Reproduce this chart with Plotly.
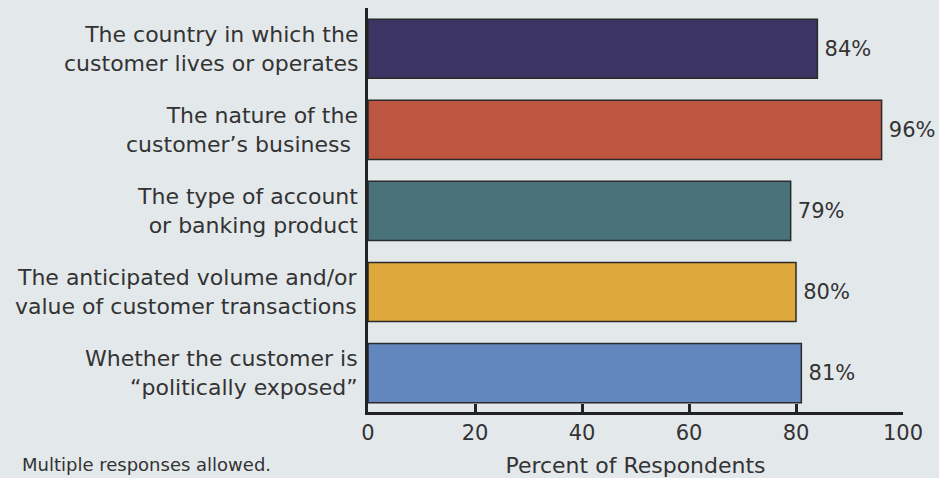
import plotly.graph_objects as go

# Data (first category shown on top)
categories = [
    "The country in which the<br>customer lives or operates",
    "The nature of the<br>customer\u2019s business\u00a0",
    "The type of account<br>or banking product",
    "The anticipated volume and/or<br>value of customer transactions",
    "Whether the customer is<br>\u201cpolitically exposed\u201d",
]
values = [84, 96, 79, 80, 81]
value_labels = ["84%", "96%", "79%", "80%", "81%"]
colors = ["#3c3462", "#bd5641", "#4a727b", "#dfa83c", "#6286bd"]
x_ticks = [0, 20, 40, 60, 80, 100]
x_title = "Percent of Respondents"
note = "Multiple responses allowed."

n = len(categories)
ypos = [n - 1 - i for i in range(n)]  # first category on top

BG = "#e3e8eb"
TXT = "#333333"
FONT = "DejaVu Sans"

fig = go.Figure()
fig.add_trace(go.Bar(
    x=values, y=ypos, orientation="h",
    width=0.73,
    marker=dict(color=colors, line=dict(color="#2a2a2a", width=1.5)),
    text=["\u2009" + v for v in value_labels], textposition="outside",
    textfont=dict(family=FONT, size=21, color=TXT),
    cliponaxis=False,
    hoverinfo="skip",
))

annotations = []
for cat, y in zip(categories, ypos):
    annotations.append(dict(
        text=cat, x=0, xref="x", y=y, yref="y", align="right",
        xanchor="right", yanchor="middle", xshift=-8,
        showarrow=False, font=dict(family=FONT, size=22, color=TXT),
    ))
annotations.append(dict(
    text=note, x=-348/535, xref="paper", y=-0.100, yref="paper",
    xanchor="left", yanchor="top", showarrow=False,
    font=dict(family=FONT, size=18, color=TXT),
))

fig.update_layout(
    width=939, height=478,
    margin=dict(l=368, r=36, t=8, b=66, autoexpand=False),
    paper_bgcolor=BG, plot_bgcolor=BG,
    showlegend=False,
    bargap=0.27,
    annotations=annotations,
    font=dict(family=FONT, color=TXT),
)
fig.update_xaxes(
    range=[0, 100], tickvals=x_ticks, ticktext=[str(t) for t in x_ticks],
    showgrid=False, zeroline=False, automargin=False,
    showline=True, linecolor="#222222", linewidth=2.5,
    ticks="inside", ticklen=8, tickwidth=2.5, tickcolor="#222222",
    tickfont=dict(family=FONT, size=21, color=TXT),
    title=dict(text=x_title, font=dict(family=FONT, size=22, color=TXT), standoff=14),
    fixedrange=True,
)
fig.update_yaxes(
    range=[-0.48, 4.503], showgrid=False, zeroline=False, automargin=False,
    showline=True, linecolor="#222222", linewidth=2.5,
    showticklabels=False, ticks="",
    fixedrange=True,
)

fig.write_html(
    "out.html",
    config={"displayModeBar": False},
    post_script="document.body.style.margin='0';document.body.style.overflow='hidden';",
)
